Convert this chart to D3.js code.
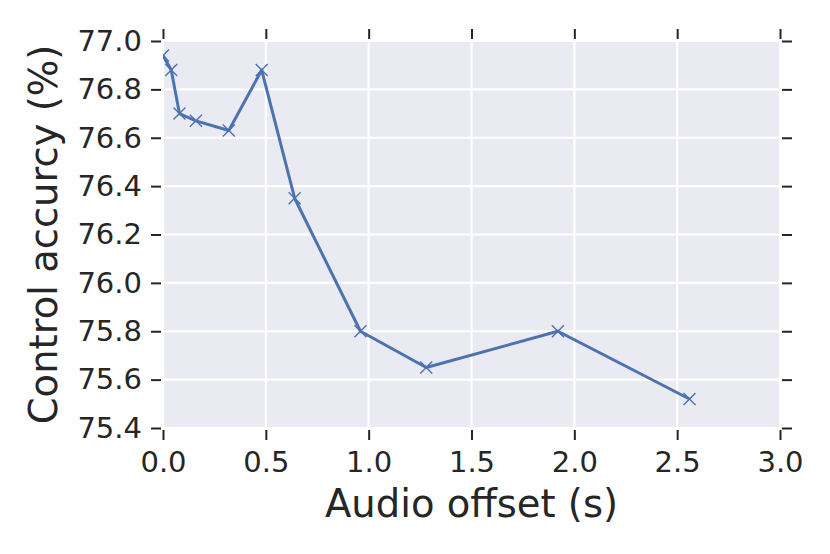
<!DOCTYPE html>
<html>
<head>
<meta charset="utf-8">
<script src="https://cdn.jsdelivr.net/npm/d3@7"></script>
<style>
  body { margin: 0; background: #fff; }
  text { font-family: "DejaVu Sans", sans-serif; fill: #262626; }
</style>
</head>
<body>
<div id="chart"></div>
<script>
var offsets = [0.0, 0.04, 0.08, 0.16, 0.32, 0.48, 0.64, 0.96, 1.28, 1.92, 2.56];
var accuracy = [76.94, 76.88, 76.70, 76.67, 76.63, 76.88, 76.35, 75.80, 75.65, 75.80, 75.52];
var xTicks = [0.0, 0.5, 1.0, 1.5, 2.0, 2.5, 3.0];
var yTicks = [75.4, 75.6, 75.8, 76.0, 76.2, 76.4, 76.6, 76.8, 77.0];
var xLabel = "Audio offset (s)";
var yLabel = "Control accurcy (%)";

var svgWidth = 830, svgHeight = 554;
var margin = { top: 41, right: 50, bottom: 126, left: 163 };
var width = svgWidth - margin.left - margin.right;
var height = svgHeight - margin.top - margin.bottom;

var data = offsets.map(function(d, i) { return { x: d, y: accuracy[i] }; });

var svg = d3.select("#chart")
  .append("svg")
  .attr("width", svgWidth)
  .attr("height", svgHeight);

var g = svg.append("g")
  .attr("transform", "translate(" + margin.left + "," + margin.top + ")");

var x = d3.scaleLinear().domain([0, 3]).range([0, width]);
var y = d3.scaleLinear().domain([75.4, 77.0]).range([height, 0]);

// background
g.append("rect")
  .attr("width", width)
  .attr("height", height)
  .attr("fill", "#eaeaf2");

// grid
g.selectAll(".vgrid").data(xTicks).enter()
  .append("line")
  .attr("x1", d => x(d)).attr("x2", d => x(d))
  .attr("y1", 0).attr("y2", height)
  .attr("stroke", "#fff").attr("stroke-width", 2.2);

g.selectAll(".hgrid").data(yTicks).enter()
  .append("line")
  .attr("y1", d => y(d)).attr("y2", d => y(d))
  .attr("x1", 0).attr("x2", width)
  .attr("stroke", "#fff").attr("stroke-width", 2.2);

var gap = 2, tickLen = 10;
var fmt = d3.format(".1f");

function styleAxis(sel) {
  sel.select(".domain").remove();
  sel.selectAll(".tick line").attr("stroke", "#262626").attr("stroke-width", 2);
  sel.selectAll(".tick text").style("font-size", "29px").attr("fill", "#262626");
}

// bottom
var xb = g.append("g")
  .attr("transform", "translate(0," + (height + gap) + ")")
  .call(d3.axisBottom(x).tickValues(xTicks).tickFormat(fmt).tickSize(tickLen));
styleAxis(xb);
xb.selectAll(".tick text").attr("y", 41.5).attr("dy", null);

// top
var xt = g.append("g")
  .attr("transform", "translate(0," + (-gap) + ")")
  .call(d3.axisTop(x).tickValues(xTicks).tickFormat("").tickSize(tickLen));
styleAxis(xt);

// left
var yl = g.append("g")
  .attr("transform", "translate(" + (-gap) + ",0)")
  .call(d3.axisLeft(y).tickValues(yTicks).tickFormat(fmt).tickSize(tickLen).tickPadding(9));
styleAxis(yl);

// right
var yr = g.append("g")
  .attr("transform", "translate(" + (width + gap) + ",0)")
  .call(d3.axisRight(y).tickValues(yTicks).tickFormat("").tickSize(tickLen));
styleAxis(yr);

// clip
svg.append("defs").append("clipPath").attr("id", "clip")
  .append("rect").attr("width", width).attr("height", height);

var plot = g.append("g").attr("clip-path", "url(#clip)");

var line = d3.line()
  .x(d => x(d.x))
  .y(d => y(d.y));

plot.append("path")
  .datum(data)
  .attr("fill", "none")
  .attr("stroke", "#4c72b0")
  .attr("stroke-width", 3)
  .attr("stroke-linejoin", "round")
  .attr("d", line);

var ms = 6;
plot.selectAll(".mark").data(data).enter()
  .append("path")
  .attr("d", d => {
    var cx = x(d.x), cy = y(d.y);
    return "M" + (cx - ms) + "," + (cy - ms) + "L" + (cx + ms) + "," + (cy + ms) +
           "M" + (cx - ms) + "," + (cy + ms) + "L" + (cx + ms) + "," + (cy - ms);
  })
  .attr("stroke", "#4c72b0")
  .attr("stroke-width", 1.4)
  .attr("fill", "none");

// axis labels
svg.append("text")
  .attr("x", margin.left + width / 2)
  .attr("y", 517)
  .attr("text-anchor", "middle")
  .style("font-size", "38.5px")
  .text(xLabel);

svg.append("text")
  .attr("transform", "translate(57," + (margin.top + height / 2) + ") rotate(-90)")
  .attr("text-anchor", "middle")
  .style("font-size", "38.5px")
  .text(yLabel);
</script>
</body>
</html>
